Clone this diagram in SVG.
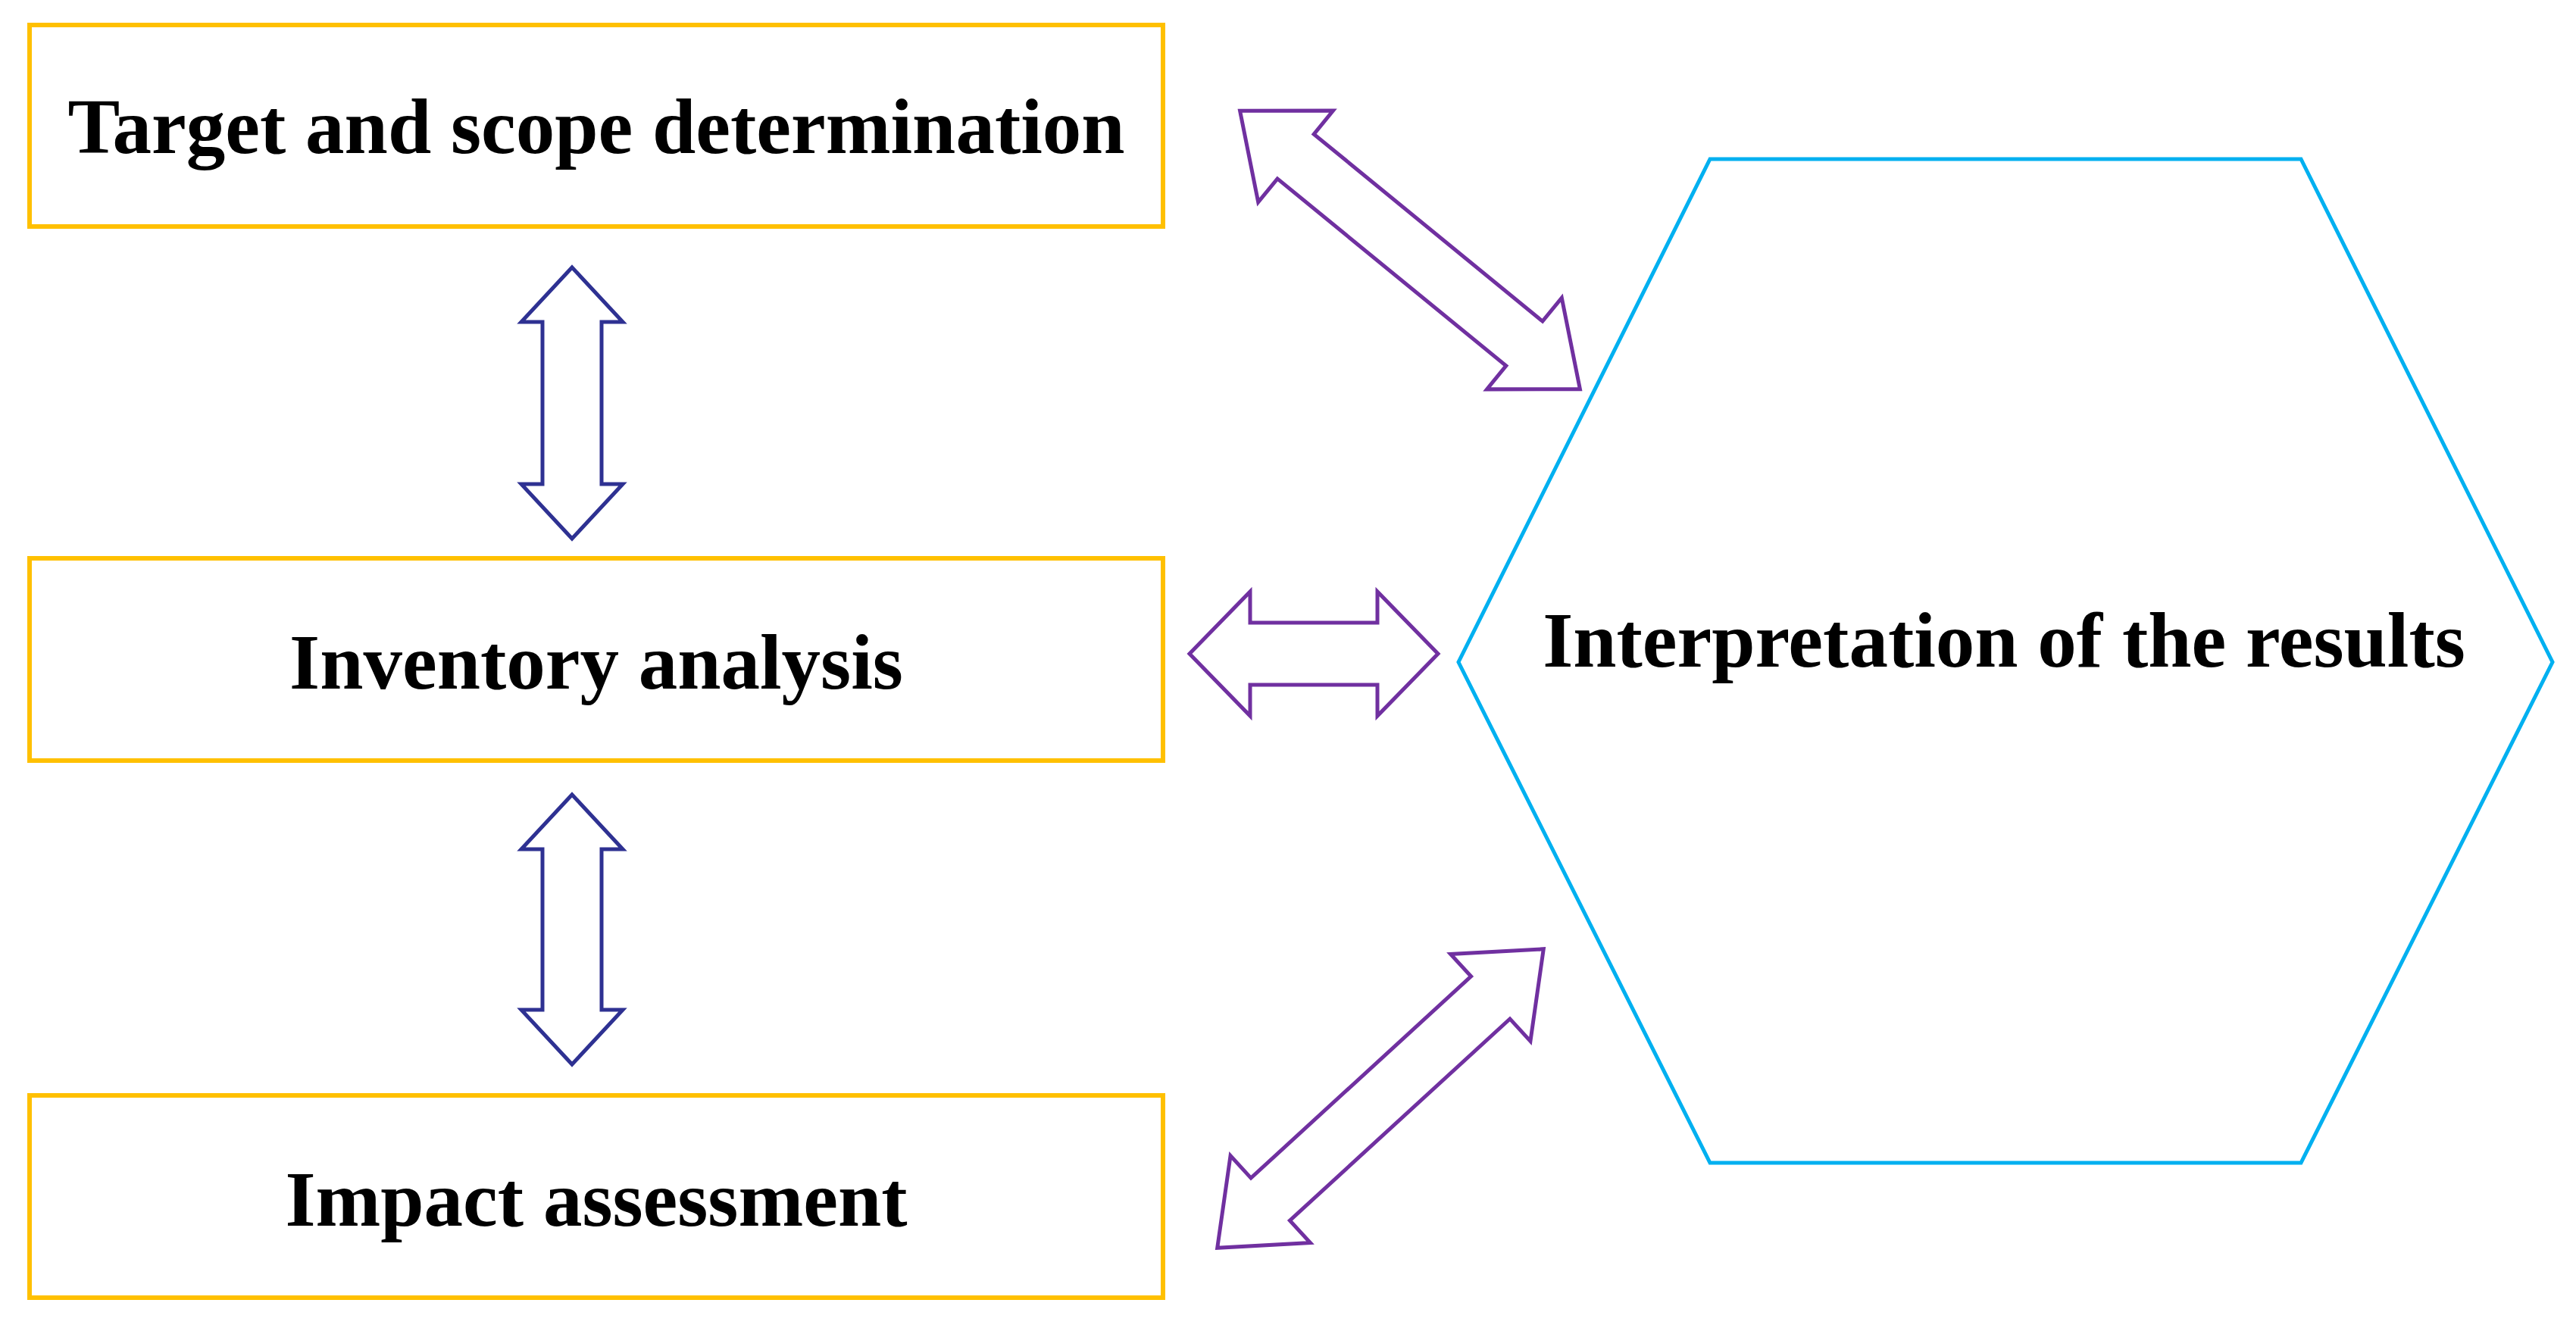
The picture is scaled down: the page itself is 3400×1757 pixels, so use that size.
<svg xmlns="http://www.w3.org/2000/svg" width="3400" height="1757" viewBox="0 0 3400 1757">
<style>
.box{fill:#fff;stroke:#FFC000;stroke-width:6}
.t{font-family:"Liberation Serif",serif;font-weight:bold;font-size:103px;text-anchor:middle;fill:#000}
.va{fill:#fff;stroke:#2E3192;stroke-width:5;stroke-linejoin:miter}
.pa{fill:#fff;stroke:#7030A0;stroke-width:5;stroke-linejoin:miter}
</style>
<rect width="3400" height="1757" fill="#fff"/>
<g id="target"><rect class="box" x="39" y="33" width="1496" height="266"/><text class="t" x="787" y="202">Target and scope determination</text></g>
<g id="inventory"><rect class="box" x="39" y="737" width="1496" height="267"/><text class="t" x="787" y="909">Inventory analysis</text></g>
<g id="impact"><rect class="box" x="39" y="1446" width="1496" height="267"/><text class="t" x="787" y="1618">Impact assessment</text></g>
<g id="interpretation"><polygon points="2257,210 3037,210 3369,874 3037,1535 2257,1535 1925,874" fill="#fff" stroke="#00B0F0" stroke-width="5"/><text class="t" x="2645" y="880">Interpretation of the results</text></g>
<g id="connectors">
<polygon class="va" transform="translate(755,532) rotate(90)" points="-179,0 -107,-67 -107,-39 107,-39 107,-67 179,0 107,67 107,39 -107,39 -107,67"/>
<polygon class="va" transform="translate(755,1227) rotate(90)" points="-178,0 -106,-67 -106,-39 106,-39 106,-67 178,0 106,67 106,39 -106,39 -106,67"/>
<polygon class="pa" transform="translate(1734,863)" points="-164,0 -84,-82 -84,-41 84,-41 84,-82 164,0 84,82 84,41 -84,41 -84,82"/>
<polygon class="pa" transform="translate(1861,330) rotate(39.3)" points="-290,0 -195,-78 -195,-38 195,-38 195,-78 290,0 195,78 195,38 -195,38 -195,78"/>
<polygon class="pa" transform="translate(1822,1450) rotate(-42.5)" points="-292,0 -197,-78 -197,-38 197,-38 197,-78 292,0 197,78 197,38 -197,38 -197,78"/>
</g>
</svg>
